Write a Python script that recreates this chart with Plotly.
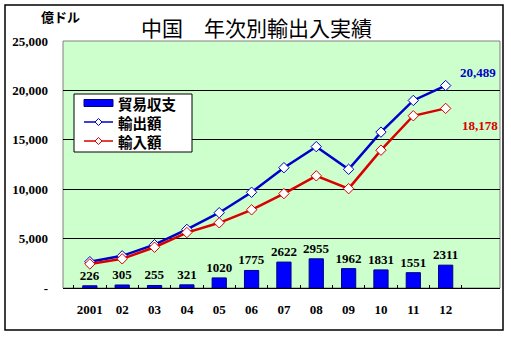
import plotly.graph_objects as go

# China annual trade (units: 100 million USD)
years = ["2001", "02", "03", "04", "05", "06", "07", "08", "09", "10", "11", "12"]
exports = [2661, 3256, 4382, 5933, 7620, 9689, 12178, 14307, 12016, 15778, 18984, 20489]
balance = [226, 305, 255, 321, 1020, 1775, 2622, 2955, 1962, 1831, 1551, 2311]
imports = [e - b for e, b in zip(exports, balance)]

y_ticks = [0, 5000, 10000, 15000, 20000, 25000]
y_tick_text = ["-", "5,000", "10,000", "15,000", "20,000", "25,000"]

W, H = 511, 338
ML, MR, MT, MB = 63, 11, 41, 50
PW, PH = W - ML - MR, H - MT - MB


def px(xp):
    return (xp - ML) / PW


def py(yp):
    return (H - MB - yp) / PH


SERIF = "Liberation Serif"
JP = "Noto Sans CJK JP"
BAR = "#0000FF"
BAR_EDGE = "#000080"
BLUE = "#0000C8"
RED = "#D80000"

fig = go.Figure()

fig.add_trace(go.Bar(
    x=years, y=balance, name="貿易収支",
    marker=dict(color=BAR, line=dict(color=BAR_EDGE, width=1)),
    width=0.44,
    text=[str(v) for v in balance], textposition="outside", constraintext="none",
    textfont=dict(family=SERIF, size=13, color="black", weight="bold"),
    cliponaxis=False,
))
fig.add_trace(go.Scatter(
    x=years, y=exports, name="輸出額", mode="lines+markers",
    line=dict(color=BLUE, width=2.5),
    marker=dict(symbol="diamond", size=8, color="white", line=dict(color=BLUE, width=1)),
))
fig.add_trace(go.Scatter(
    x=years, y=imports, name="輸入額", mode="lines+markers",
    line=dict(color=RED, width=2.5),
    marker=dict(symbol="diamond", size=8, color="white", line=dict(color=RED, width=1)),
))

annotations = [
    dict(text="中国　年次別輸出入実績", xref="paper", yref="paper", x=px(256), y=py(27),
         xanchor="center", yanchor="middle",
         showarrow=False, font=dict(family=JP, size=21, color="black")),
    dict(text="億ドル", xref="paper", yref="paper", x=px(60), y=py(17),
         xanchor="center", yanchor="middle",
         showarrow=False, font=dict(family=JP, size=13, color="black", weight="bold")),
    dict(text="{:,}".format(exports[-1]), x=years[-1], y=exports[-1], yshift=13,
         xanchor="center", yanchor="middle",
         showarrow=False, font=dict(family=SERIF, size=13, color=BLUE, weight="bold")),
    dict(text="{:,}".format(imports[-1]), x=years[-1], y=imports[-1], yshift=-17, xshift=2,
         xanchor="center", yanchor="middle",
         showarrow=False, font=dict(family=SERIF, size=13, color=RED, weight="bold")),
]

shapes = [
    # plot area frame
    dict(type="rect", xref="paper", yref="paper", x0=0, x1=1, y0=0, y1=1,
         line=dict(color="#808080", width=1), layer="below"),
    # outer chart frame
    dict(type="rect", xref="paper", yref="paper", x0=px(5), x1=px(503), y0=py(330), y1=py(5),
         line=dict(color="black", width=1.5)),
]

# Legend box drawn as shapes + text so the rows sit close together
LEG_X0, LEG_X1, LEG_Y0, LEG_Y1 = 74, 192, 94, 152
shapes.append(dict(type="rect", xref="paper", yref="paper",
                   x0=px(LEG_X0), x1=px(LEG_X1), y0=py(LEG_Y1), y1=py(LEG_Y0),
                   line=dict(color="black", width=1), fillcolor="white"))
key_x0, key_x1 = 84, 113
key_mid = (key_x0 + key_x1) / 2
rows = [
    ("貿易収支", 103, "bar", BAR),
    ("輸出額", 122, "line", BLUE),
    ("輸入額", 141, "line", RED),
]
for label, ry, kind, color in rows:
    if kind == "bar":
        shapes.append(dict(type="rect", xref="paper", yref="paper",
                           x0=px(key_x0), x1=px(key_x1), y0=py(ry + 3.5), y1=py(ry - 3.5),
                           fillcolor=BAR, line=dict(color=BAR_EDGE, width=1)))
    else:
        shapes.append(dict(type="line", xref="paper", yref="paper",
                           x0=px(key_x0), x1=px(key_x1), y0=py(ry), y1=py(ry),
                           line=dict(color=color, width=1.5)))
        d = 3.5
        path = "M {} {} L {} {} L {} {} L {} {} Z".format(
            px(key_mid), py(ry - d), px(key_mid + d), py(ry),
            px(key_mid), py(ry + d), px(key_mid - d), py(ry))
        shapes.append(dict(type="path", xref="paper", yref="paper", path=path,
                           fillcolor="white", line=dict(color=color, width=1)))
    annotations.append(dict(text=label, xref="paper", yref="paper",
                            x=px(116), y=py(ry), xanchor="left", yanchor="middle",
                            showarrow=False,
                            font=dict(family=JP, size=14.5, color="black", weight="bold")))

fig.update_layout(
    width=W, height=H,
    margin=dict(l=ML, r=MR, t=MT, b=MB),
    paper_bgcolor="white", plot_bgcolor="#CCFFCC",
    showlegend=False,
    annotations=annotations, shapes=shapes,
    bargap=0.56,
)
fig.update_xaxes(
    type="category", showgrid=False, showline=True, linecolor="black", linewidth=1,
    ticks="inside", ticklen=3, tickcolor="black", tickson="boundaries",
    tickangle=0,
    tickfont=dict(family=SERIF, size=13, color="black", weight="bold"),
    ticklabelstandoff=9,
)
fig.update_yaxes(
    range=[0, 25000], tickvals=y_ticks, ticktext=y_tick_text,
    showgrid=True, gridcolor="black", gridwidth=1, zeroline=False,
    showline=False, ticks="", ticklabelstandoff=14,
    tickfont=dict(family=SERIF, size=13, color="black", weight="bold"),
)

fig.write_html("out.html")
